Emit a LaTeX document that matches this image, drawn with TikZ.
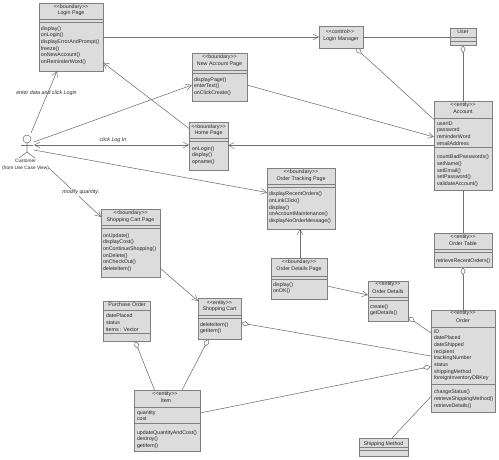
\documentclass[tikz,border=0pt]{standalone}
\usepackage{fontspec}
\setmainfont{Liberation Sans}
\usetikzlibrary{arrows.meta}
\definecolor{boxfill}{HTML}{DCDCDC}
\definecolor{boxline}{HTML}{7F7F7F}
\definecolor{conn}{HTML}{707070}
\newcommand{\stereo}[1]{{<}{<}#1{>}{>}}
\tikzset{
  umlnode/.style={draw=boxline,fill=boxfill,line width=0.8pt,inner sep=0pt,outer sep=0pt},
  umlrule/.style={draw=boxline,line width=0.7pt},
  umlfont/.style={font=\fontsize{5.3}{6.67}\selectfont,text=black!85,inner sep=0pt,outer sep=0pt},
  umllabel/.style={umlfont,align=center},
  umllist/.style={umlfont,align=left,anchor=north west},
  conline/.style={draw=conn,line width=0.55pt},
  opentip/.style={conline,-{Straight Barb[length=5.5pt,width=6pt,line width=0.5pt]}},
  bothtip/.style={conline,{Straight Barb[length=5.5pt,width=6pt,line width=0.5pt]}-{Straight Barb[length=5.5pt,width=6pt,line width=0.5pt]}},
  aggtip/.style={conline,-{Diamond[open,fill=white,length=8.5pt,width=5pt,line width=0.55pt]}},
  msglabel/.style={umlfont,font=\fontsize{5.3}{6.67}\itshape\selectfont},
}
% name x1 y1 x2 y2 rule1 rule2
\newcommand{\umlbox}[7]{%
  \node[umlnode,minimum width={(#4-#2)*1pt},minimum height={(#5-#3)*1pt}] (#1) at ({(#2+#4)/2},{(#3+#5)/2}) {};
  \path[umlrule] (#1.west |- 0,#6) -- (#1.east |- 0,#6);
  \path[umlrule] (#1.west |- 0,#7) -- (#1.east |- 0,#7);
}
% name, centre x, centre y of the text line, text
\newcommand{\umlline}[4]{\node[umllabel] (#1) at (#2,#3) {#4};}
% name, left x, centre y of first line, lines
\newcommand{\umlitems}[4]{\node[umllist] (#1) at (#2,{#3-2.9}) {\rule{0pt}{4.9pt}#4};}
\begin{document}
\begin{tikzpicture}[x=1pt,y=-1pt]
\useasboundingbox[fill=white] (0,0) rectangle (499,459);

% ---------- classes
\umlbox{login}{39}{3}{103}{71}{19}{22}
\umlline{loginS}{71}{7}{\stereo{boundary}}
\umlline{loginT}{71}{13.5}{Login Page}
\umlitems{loginO}{41}{28.3}{display()\\onLogin()\\displayErrorAndPrompt()\\freeze()\\onNewAccount()\\onReminderWord()}

\umlbox{newacc}{192}{53}{247}{101}{70}{73}
\umlline{newaccS}{219.5}{57}{\stereo{boundary}}
\umlline{newaccT}{219.5}{64}{New Account Page}
\umlitems{newaccO}{194}{79}{displayPage()\\enterText()\\onClickCreate()}

\umlbox{home}{189}{122}{228}{170}{138}{141}
\umlline{homeS}{208.5}{127}{\stereo{boundary}}
\umlline{homeT}{208.5}{133.5}{Home Page}
\umlitems{homeO}{192}{148}{onLogin()\\display()\\opname()}

\umlbox{scp}{101}{209}{160}{277}{225}{228}
\umlline{scpS}{130.5}{213}{\stereo{boundary}}
\umlline{scpT}{130.5}{219.7}{Shopping Cart Page}
\umlitems{scpO}{103}{235}{onUpdate()\\displayCost()\\onContinueShopping()\\onDelete()\\onCheckOut()\\deleteItem()}

\node[umlnode,minimum width=44pt,minimum height=22pt] (mgr) at (341,37) {};
\umlline{mgrS}{340}{32}{\stereo{control}}
\umlline{mgrT}{341}{39}{Login Manager}

\umlbox{user}{450}{28}{476}{45}{37}{41}
\umlline{userT}{463}{32}{User}

\umlbox{account}{434}{101}{492}{190}{118}{147.5}
\umlline{accountS}{463}{105}{\stereo{entity}}
\umlline{accountT}{463}{112}{Account}
\umlitems{accountA}{437}{123.3}{userID\\password\\reminderWord\\emailAddress}
\umlitems{accountO}{437}{156.7}{countBadPasswords()\\setName()\\setEmail()\\setPassword()\\validateAccount()}

\umlbox{otp}{267}{168}{335}{229}{184}{187}
\umlline{otpS}{301}{172.3}{\stereo{boundary}}
\umlline{otpT}{301}{179}{Order Tracking Page}
\umlitems{otpO}{269}{193.7}{displayRecentOrders()\\onLinkClick()\\display()\\onAccountMaintenance()\\displayNoOrderMessage()}

\umlbox{odp}{271}{258}{327}{299}{276}{279}
\umlline{odpS}{299}{262.3}{\stereo{boundary}}
\umlline{odpT}{299}{269}{Order Details Page}
\umlitems{odpO}{273}{284.3}{display()\\onOK()}

\umlbox{od}{368}{281}{408}{321}{297}{300}
\umlline{odS}{388}{284.3}{\stereo{entity}}
\umlline{odT}{388}{291.7}{Order Details}
\umlitems{odO}{370}{306.3}{create()\\getDetails()}

\umlbox{otable}{434}{233}{492}{267}{249}{252}
\umlline{otableS}{463}{237}{\stereo{entity}}
\umlline{otableT}{463}{244}{Order Table}
\umlitems{otableO}{436}{260}{retrieveRecentOrders()}

\umlbox{order}{431}{310}{495}{412}{327}{384}
\umlline{orderS}{463}{313.3}{\stereo{entity}}
\umlline{orderT}{463}{320.3}{Order}
\umlitems{orderA}{434}{331.3}{ID\\datePlaced\\dateShipped\\recipient\\trackingNumber\\status\\shippingMethod\\foreignInventoryDBKey}
\umlitems{orderO}{434}{391.7}{changeStatus()\\retrieveShippingMethod()\\retrieveDetails()}

\umlbox{ship}{359}{438}{408}{456}{447}{450}
\umlline{shipT}{383.5}{443.7}{Shipping Method}

\umlbox{po}{103}{301}{150}{341}{310}{333}
\umlline{poT}{127}{305}{Purchase Order}
\umlitems{poA}{106}{315.7}{datePlaced\\status\\items : Vector}

\umlbox{cart}{198}{298}{241}{339}{315}{318}
\umlline{cartS}{219.5}{302.7}{\stereo{entity}}
\umlline{cartT}{219.5}{309}{Shopping Cart}
\umlitems{cartO}{200}{324.3}{deleteItem()\\getItem()}

\umlbox{item}{134}{390}{200}{451}{407}{423}
\umlline{itemS}{165}{394}{\stereo{entity}}
\umlline{itemT}{166}{401}{Item}
\umlitems{itemA}{137}{412.3}{quantity\\cost}
\umlitems{itemO}{137}{432.3}{updateQuantityAndCost()\\destroy()\\getItem()}

% ---------- actor
\node[minimum width=16pt,minimum height=24pt,inner sep=0pt,outer sep=0pt] (actor) at (26,145) {};
\draw[conline,fill=white] (27,139) circle[radius=4];
\draw[conline] (27,143) -- (27,152) (21,145.5) -- (33,145.5) (27,152) -- (19,158) (27,152) -- (35,158);
\node[umlfont,font=\fontsize{4.8}{6.4}\selectfont,align=center] (customer) at (25.5,165) {Customer\\(from Use Case View)};

% ---------- connectors
\draw[opentip] (login.east |- 0,37) -- (mgr.west |- 0,37);
\draw[conline] (mgr.east |- 0,37) -- (user.west |- 0,37);
\draw[aggtip] (account.west |- 0,119.5) -- (mgr.south -| 355.5,0);
\draw[aggtip] (account.north) -- (user.south);
\draw[opentip] (actor.north -| 31,0) -- (login.south -| 57,0);
\draw[opentip] (actor.east |- 0,142) -- (newacc.west |- 0,85);
\draw[bothtip] (actor.east |- 0,145) -- (home.west |- 0,145);
\draw[opentip] (actor.east |- 0,150) -- (otp.west |- 0,192.5);
\draw[opentip] (newacc.east |- 0,85) -- (account.west |- 0,137);
\draw[opentip] (account.west |- 0,145.5) -- (home.east |- 0,145.5);
\draw[opentip] (home.west |- 0,128.5) -- (login.east |- 0,62.5);
\draw[opentip] (customer.east |- 0,168) -- (scp.west |- 0,217);
\draw[opentip] (scp.east |- 0,268) -- (cart.north west |- 0,301);
\draw[opentip] (odp.north -| 300,0) -- (otp.south -| 300,0);
\draw[opentip] (odp.east |- 0,286) -- (od.west |- 0,295);
\draw[aggtip] (order.west |- 0,333) -- (od.east |- 0,317);
\draw[aggtip] (order.north -| 463,0) -- (otable.south);
\draw[conline] (account.south) -- (otable.north);
\draw[aggtip] (order.west |- 0,356) -- (cart.east |- 0,323);
\draw[aggtip] (item.east |- 0,413) -- (order.west |- 0,366.5);
\draw[aggtip] (item.north -| 154.5,0) -- (po.south -| 135,0);
\draw[aggtip] (item.north -| 182,0) -- (cart.south -| 208.5,0);
\draw[conline] (ship.north -| 392,0) -- (order.west |- 0,396.5);

% ---------- message labels
\node[msglabel] (lblEnter) at (46.5,93) {enter data and click Login};
\node[msglabel] (lblClick) at (113,140) {click Log In};
\node[msglabel,fill=white,inner sep=1pt] (lblModify) at (81,192.5) {modify quantity:};
\end{tikzpicture}
\end{document}
